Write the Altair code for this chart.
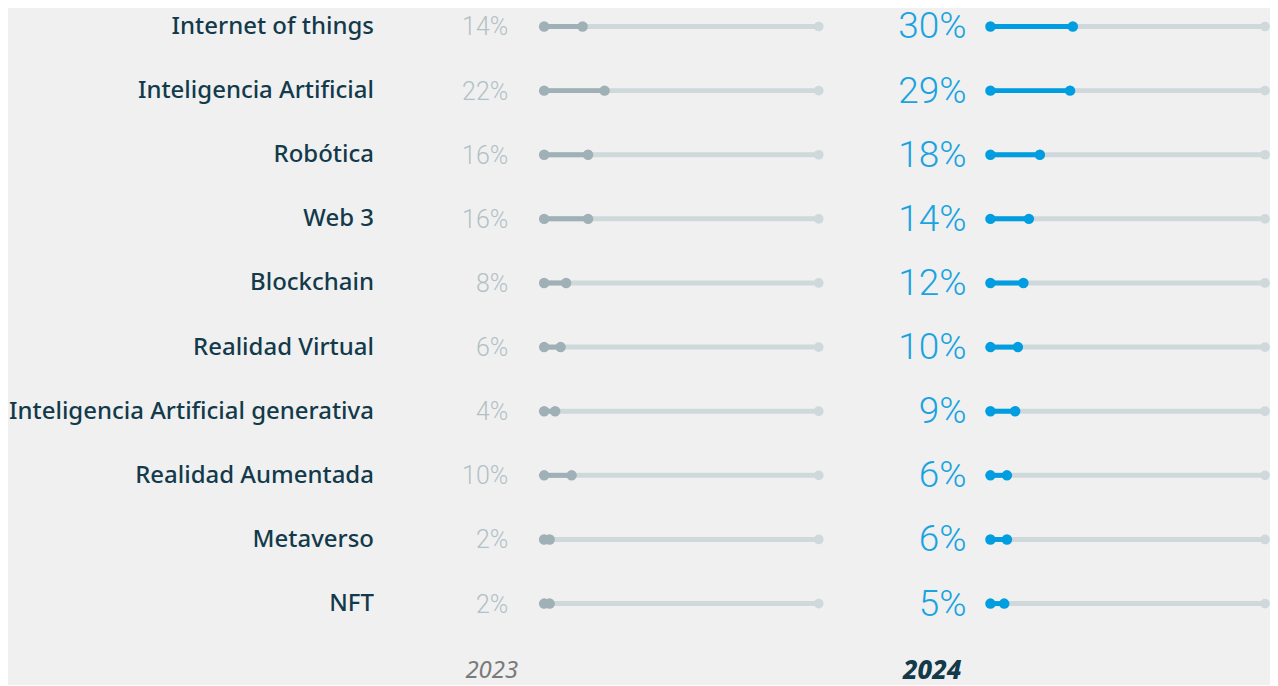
import altair as alt
import pandas as pd

categories = [
    "Internet of things",
    "Inteligencia Artificial",
    "Robótica",
    "Web 3",
    "Blockchain",
    "Realidad Virtual",
    "Inteligencia Artificial generativa",
    "Realidad Aumentada",
    "Metaverso",
    "NFT",
]
values_2023 = [14, 22, 16, 16, 8, 6, 4, 10, 2, 2]
values_2024 = [30, 29, 18, 14, 12, 10, 9, 6, 6, 5]
years = ["2023", "2024"]
scale_min, scale_max = 0, 100

rows = []
for yr, vals in zip(years, [values_2023, values_2024]):
    for c, v in zip(categories, vals):
        rows.append({"category": c, "year": yr, "value": v, "label": f"{v}%",
                     "lo": scale_min, "hi": scale_max})
df = pd.DataFrame(rows)

TRACK = "#cfd8db"
LABEL = "#123a4b"

def panel(year, color, txt_color, txt_size, txt_dy, txt_x, show_axis, year_x, year_style):
    d = df[df["year"] == year]
    base = alt.Chart(d)
    if show_axis:
        yaxis = alt.Axis(domain=False, ticks=False, grid=False, title=None,
                         labelFontSize=24, labelColor=LABEL, labelFont="Noto Sans",
                         labelFontWeight=500, labelPadding=171, labelLimit=600)
    else:
        yaxis = None
    y = alt.Y("category:N", sort=categories,
              scale=alt.Scale(type="point", padding=0), axis=yaxis)
    xs = alt.Scale(domain=[scale_min, scale_max])
    track = base.mark_rule(strokeWidth=5, color=TRACK).encode(
        x=alt.X("lo:Q", scale=xs, axis=None), x2="hi:Q", y=y)
    end_dot = base.mark_circle(size=95, color=TRACK, opacity=1).encode(
        x="hi:Q", y=y)
    bar = base.mark_rule(strokeWidth=5, color=color).encode(
        x="lo:Q", x2="value:Q", y=y)
    start_dot = base.mark_circle(size=110, color=color, opacity=1).encode(
        x="lo:Q", y=y)
    val_dot = base.mark_circle(size=110, color=color, opacity=1).encode(
        x="value:Q", y=y)
    pct = base.mark_text(align="right", baseline="middle", font="Roboto",
                         fontWeight=300, fontSize=txt_size, color=txt_color,
                         dy=txt_dy).encode(x=alt.value(txt_x), y=y, text="label:N")
    ylab = alt.Chart(pd.DataFrame({"year": [year]})).mark_text(
        align="right", baseline="middle", font="Noto Sans",
        **year_style).encode(x=alt.value(year_x), y=alt.value(646), text="year:N")
    return alt.layer(track, end_dot, bar, start_dot, val_dot, pct, ylab).properties(
        width=275, height=578)

p1 = panel("2023", "#9fb0b6", "#b3c0c5", 25, 1, -36, True, -26,
           {"fontStyle": "italic", "color": "#7a7a7a", "fontWeight": 400, "fontSize": 24})
p2 = panel("2024", "#009ee0", "#1aa3e0", 37, 1, -24, False, -29,
           {"fontStyle": "italic", "color": LABEL, "fontWeight": 800, "fontSize": 26})

chart = alt.hconcat(p1, p2, spacing=172, bounds="flush").properties(
    padding={"top": 0, "left": 0, "right": 0, "bottom": 0},
    background="#f0f0f0",
).configure_view(stroke=None)

chart.save("out.html", embed_options={"renderer": "svg", "actions": False})
